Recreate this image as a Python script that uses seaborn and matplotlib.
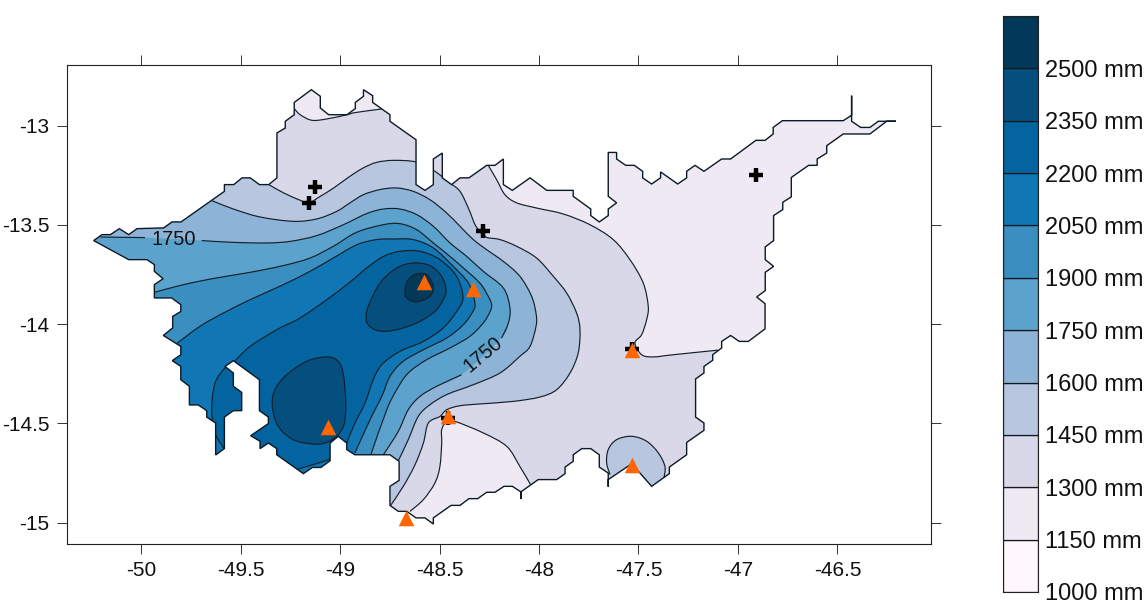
import matplotlib
matplotlib.use("Agg")
import matplotlib.pyplot as plt
import seaborn as sns
import numpy as np
import pandas as pd
from matplotlib.patches import Polygon, PathPatch
from matplotlib.path import Path

# rainfall bands
levels = [1000, 1150, 1300, 1450, 1600, 1750, 1900, 2050, 2200, 2350, 2500]
band_colors = ["#FFF7FB", "#EEE9F3", "#D9D8E8", "#B8C7DF", "#8DB4D6", "#5BA3CC",
               "#3A8FC0", "#1076B4", "#04649F", "#044F7E", "#023858"]
lon_ticks = [-50, -49.5, -49, -48.5, -48, -47.5, -47, -46.5]
lat_ticks = [-13, -13.5, -14, -14.5, -15]

# stations
tri_lon = [-48.578, -48.330, -47.534, -48.459, -47.534, -48.668, -49.059]
tri_lat = [-13.790, -13.821, -14.129, -14.461, -14.708, -14.976, -14.518]
plus_lon = [-49.127, -49.156, -48.280, -46.910, -47.534, -48.459]
plus_lat = [-13.309, -13.389, -13.529, -13.250, -14.124, -14.471]

# outline of the basin
outline = [(-50.238,-13.579),(-50.196,-13.549),(-50.154,-13.549),(-50.109,-13.519),(-50.062,-13.549),
    (-50.020,-13.519),(-49.886,-13.515),(-49.844,-13.485),(-49.799,-13.485),(-49.581,-13.331),
    (-49.581,-13.297),(-49.534,-13.297),(-49.492,-13.263),(-49.451,-13.263),(-49.405,-13.297),
    (-49.358,-13.297),(-49.317,-13.263),(-49.317,-13.037),(-49.275,-13.012),(-49.275,-12.978),
    (-49.230,-12.945),(-49.230,-12.883),(-49.144,-12.819),(-49.099,-12.852),(-49.099,-12.911),
    (-49.057,-12.945),(-48.965,-12.945),(-48.923,-12.914),(-48.923,-12.883),(-48.882,-12.852),
    (-48.882,-12.819),(-48.836,-12.849),(-48.836,-12.883),(-48.749,-12.945),(-48.749,-12.978),
    (-48.618,-13.071),(-48.618,-13.297),(-48.573,-13.326),(-48.531,-13.297),(-48.531,-13.168),
    (-48.486,-13.138),(-48.486,-13.263),(-48.439,-13.297),(-48.397,-13.263),(-48.352,-13.263),
    (-48.263,-13.200),(-48.221,-13.200),(-48.179,-13.168),(-48.179,-13.297),(-48.134,-13.326),
    (-48.045,-13.263),(-47.961,-13.326),(-47.828,-13.326),(-47.828,-13.356),(-47.740,-13.420),
    (-47.740,-13.453),(-47.697,-13.485),(-47.652,-13.453),(-47.652,-13.420),(-47.610,-13.389),
    (-47.652,-13.356),(-47.652,-13.135),(-47.610,-13.135),(-47.610,-13.168),(-47.564,-13.200),
    (-47.521,-13.200),(-47.479,-13.230),(-47.479,-13.263),(-47.434,-13.294),(-47.389,-13.263),
    (-47.389,-13.233),(-47.303,-13.294),(-47.258,-13.263),(-47.258,-13.230),(-47.216,-13.200),
    (-47.171,-13.230),(-47.082,-13.168),(-47.037,-13.168),(-46.910,-13.074),(-46.864,-13.074),
    (-46.823,-13.042),(-46.823,-13.009),(-46.777,-12.975),(-46.471,-12.975),(-46.429,-12.948),
    (-46.429,-12.849),(-46.429,-12.978),(-46.383,-13.009),(-46.337,-13.009),(-46.295,-12.978),
    (-46.206,-12.978),(-46.253,-12.978),(-46.337,-13.042),(-46.471,-13.042),(-46.554,-13.101),
    (-46.554,-13.138),(-46.602,-13.168),(-46.602,-13.200),(-46.645,-13.200),(-46.732,-13.261),
    (-46.732,-13.359),(-46.775,-13.386),(-46.775,-13.423),(-46.821,-13.453),(-46.821,-13.579),
    (-46.863,-13.611),(-46.863,-13.675),(-46.821,-13.709),(-46.863,-13.739),(-46.863,-13.831),
    (-46.906,-13.863),(-46.864,-13.897),(-46.864,-14.024),(-46.948,-14.087),(-46.994,-14.087),
    (-47.037,-14.057),(-47.082,-14.087),(-47.082,-14.120),(-47.127,-14.154),(-47.127,-14.182),
    (-47.171,-14.213),(-47.171,-14.246),(-47.213,-14.276),(-47.213,-14.468),(-47.171,-14.498),
    (-47.171,-14.535),(-47.258,-14.596),(-47.258,-14.658),(-47.345,-14.720),(-47.345,-14.753),
    (-47.434,-14.817),(-47.534,-14.703),(-47.652,-14.783),(-47.652,-14.819),(-47.652,-14.750),
    (-47.697,-14.720),(-47.697,-14.658),(-47.740,-14.627),(-47.785,-14.627),(-47.828,-14.658),
    (-47.828,-14.691),(-47.869,-14.720),(-47.869,-14.753),(-47.911,-14.783),(-48.004,-14.783),
    (-48.091,-14.845),(-48.091,-14.881),(-48.091,-14.845),(-48.134,-14.817),(-48.176,-14.817),
    (-48.221,-14.847),(-48.263,-14.847),(-48.308,-14.879),(-48.352,-14.879),(-48.397,-14.913),
    (-48.442,-14.913),(-48.531,-14.976),(-48.531,-15.007),(-48.573,-14.976),(-48.618,-14.976),
    (-48.665,-14.943),(-48.707,-14.943),(-48.749,-14.913),(-48.749,-14.817),(-48.703,-14.787),
    (-48.703,-14.691),(-48.749,-14.658),(-48.925,-14.658),(-48.966,-14.632),(-48.966,-14.599),
    (-49.009,-14.565),(-49.050,-14.599),(-49.050,-14.688),(-49.096,-14.722),(-49.139,-14.722),
    (-49.184,-14.753),(-49.318,-14.658),(-49.318,-14.627),(-49.360,-14.599),(-49.402,-14.627),
    (-49.402,-14.590),(-49.449,-14.562),(-49.360,-14.501),(-49.360,-14.468),(-49.405,-14.436),
    (-49.405,-14.280),(-49.536,-14.184),(-49.578,-14.213),(-49.536,-14.246),(-49.536,-14.313),
    (-49.494,-14.344),(-49.494,-14.436),(-49.536,-14.436),(-49.581,-14.468),(-49.581,-14.627),
    (-49.625,-14.659),(-49.625,-14.498),(-49.670,-14.468),(-49.670,-14.436),(-49.712,-14.407),
    (-49.757,-14.407),(-49.757,-14.313),(-49.800,-14.280),(-49.800,-14.213),(-49.843,-14.184),
    (-49.800,-14.154),(-49.800,-14.112),(-49.888,-14.057),(-49.841,-14.019),(-49.841,-13.961),
    (-49.800,-13.936),(-49.800,-13.902),(-49.846,-13.868),(-49.933,-13.868),(-49.933,-13.801),
    (-49.889,-13.771),(-49.933,-13.734),(-49.933,-13.700),(-49.970,-13.675),(-50.062,-13.675)]

# isohyets
iso1300_north = [(-49.230,-12.914),(-49.200,-12.945),(-49.141,-12.973),(-49.065,-12.966),
    (-48.965,-12.945),(-48.923,-12.934),(-48.790,-12.916)]
iso1300_east = [(-48.255,-13.200),(-48.213,-13.272),(-48.171,-13.348),(-48.112,-13.389),
    (-48.012,-13.415),(-47.878,-13.445),(-47.744,-13.499),(-47.627,-13.574),(-47.543,-13.675),
    (-47.476,-13.793),(-47.451,-13.910),(-47.459,-13.977),(-47.484,-14.053),(-47.518,-14.095),
    (-47.484,-14.154),(-47.426,-14.165),(-47.325,-14.154),(-47.101,-14.131)]
iso1300_south = [(-48.648,-14.943),(-48.581,-14.884),(-48.523,-14.800),(-48.498,-14.717),
    (-48.489,-14.599),(-48.489,-14.532),(-48.464,-14.490),(-48.422,-14.490),(-48.280,-14.548),
    (-48.162,-14.616),(-48.096,-14.717),(-48.042,-14.809)]
iso1450 = [(-49.358,-13.297),(-49.283,-13.339),(-49.200,-13.376),(-49.157,-13.389),(-49.099,-13.356),
    (-49.032,-13.314),(-48.950,-13.255),(-48.883,-13.213),(-48.816,-13.185),(-48.732,-13.175),
    (-48.618,-13.183),(-48.531,-13.225),(-48.447,-13.289),(-48.397,-13.331),(-48.355,-13.415),
    (-48.317,-13.507),(-48.281,-13.539),(-48.263,-13.563),(-48.196,-13.574),(-48.112,-13.608),
    (-48.012,-13.667),(-47.928,-13.759),(-47.861,-13.843),(-47.811,-13.944),(-47.794,-14.028),
    (-47.803,-14.145),(-47.844,-14.246),(-47.911,-14.330),(-47.995,-14.367),(-48.129,-14.389),
    (-48.297,-14.402),(-48.397,-14.411),(-48.464,-14.431),(-48.498,-14.465),(-48.556,-14.498),
    (-48.581,-14.599),(-48.623,-14.708),(-48.682,-14.817),(-48.749,-14.918)]
iso1450_bump = [(-47.643,-14.758),(-47.660,-14.699),(-47.652,-14.632),(-47.610,-14.582),(-47.534,-14.565),
    (-47.459,-14.590),(-47.400,-14.649),(-47.367,-14.717),(-47.372,-14.775)]
iso1600 = [(-49.648,-13.376),(-49.536,-13.420),(-49.402,-13.460),(-49.235,-13.482),(-49.117,-13.470),
    (-49.017,-13.432),(-48.950,-13.389),(-48.883,-13.348),(-48.799,-13.322),(-48.715,-13.314),
    (-48.632,-13.331),(-48.548,-13.373),(-48.464,-13.440),(-48.397,-13.507),(-48.330,-13.574),
    (-48.263,-13.625),(-48.179,-13.684),(-48.096,-13.759),(-48.037,-13.860),(-48.014,-13.952),
    (-48.015,-14.011),(-48.045,-14.112),(-48.096,-14.162),(-48.196,-14.246),(-48.330,-14.305),
    (-48.464,-14.355),(-48.548,-14.406),(-48.607,-14.465),(-48.657,-14.582),(-48.707,-14.688)]
iso1750_a = [(-50.204,-13.561),(-49.980,-13.564)]
iso1750_b = [(-49.695,-13.579),(-49.536,-13.588),(-49.368,-13.591),(-49.251,-13.583),(-49.117,-13.554),
    (-48.983,-13.499),(-48.866,-13.443),(-48.782,-13.420),(-48.699,-13.420),(-48.615,-13.448),
    (-48.531,-13.507),(-48.447,-13.591),(-48.363,-13.659),(-48.280,-13.734),(-48.179,-13.818),
    (-48.146,-13.918),(-48.154,-13.994),(-48.188,-14.070)]
iso1750_c = [(-48.389,-14.255),(-48.514,-14.313),(-48.598,-14.364),(-48.657,-14.431),(-48.707,-14.540),
    (-48.782,-14.658)]
iso1900 = [(-49.933,-13.840),(-49.787,-13.801),(-49.620,-13.767),(-49.452,-13.739),(-49.285,-13.705),
    (-49.151,-13.667),(-49.034,-13.608),(-48.916,-13.537),(-48.782,-13.499),(-48.699,-13.494),
    (-48.615,-13.524),(-48.531,-13.591),(-48.447,-13.659),(-48.380,-13.717),(-48.297,-13.793),
    (-48.255,-13.860),(-48.238,-13.902),(-48.246,-13.937),(-48.280,-13.994),(-48.347,-14.061),
    (-48.447,-14.120),(-48.564,-14.179),(-48.657,-14.246),(-48.715,-14.330),(-48.765,-14.431),
    (-48.844,-14.655)]
iso2050 = [(-49.821,-14.098),(-49.704,-14.011),(-49.586,-13.944),(-49.452,-13.877),(-49.285,-13.801),
    (-49.151,-13.734),(-49.034,-13.667),(-48.916,-13.600),(-48.816,-13.574),(-48.732,-13.571),
    (-48.632,-13.574),(-48.531,-13.616),(-48.431,-13.709),(-48.355,-13.793),(-48.322,-13.893),
    (-48.333,-13.937),(-48.380,-14.003),(-48.464,-14.070),(-48.581,-14.129),(-48.682,-14.187),
    (-48.749,-14.263),(-48.790,-14.364),(-48.849,-14.481),(-48.925,-14.649)]
iso2200 = [(-49.583,-14.627),(-49.628,-14.548),(-49.645,-14.431),(-49.628,-14.296),(-49.578,-14.221),
    (-49.531,-14.187),(-49.452,-14.112),(-49.318,-14.028),(-49.201,-13.969),(-49.067,-13.877),
    (-48.950,-13.788),(-48.866,-13.717),(-48.782,-13.659),(-48.699,-13.633),(-48.598,-13.633),
    (-48.498,-13.675),(-48.414,-13.759),(-48.382,-13.867),(-48.414,-13.936),(-48.481,-14.019),
    (-48.581,-14.087),(-48.699,-14.137),(-48.790,-14.204),(-48.833,-14.280),(-48.874,-14.397),
    (-48.925,-14.498),(-48.966,-14.599)]
iso2200_foot = [(-49.050,-14.679),(-49.096,-14.696),(-49.210,-14.730)]
iso2350_north = [(-48.869,-13.969),(-48.858,-13.910),(-48.799,-13.793),(-48.715,-13.717),(-48.632,-13.692),
    (-48.548,-13.705),(-48.489,-13.759),(-48.467,-13.826),(-48.481,-13.877),(-48.523,-13.936),
    (-48.598,-13.986),(-48.682,-14.019),(-48.765,-14.036),(-48.824,-14.028),(-48.858,-14.003)]
iso2350_south = [(-49.340,-14.414),(-49.327,-14.330),(-49.268,-14.255),(-49.167,-14.187),(-49.067,-14.165),
    (-49.009,-14.187),(-48.983,-14.255),(-48.971,-14.397),(-48.978,-14.498),(-49.009,-14.557),
    (-49.067,-14.596),(-49.134,-14.604),(-49.235,-14.582),(-49.310,-14.515)]
iso2500 = [(-48.673,-13.826),(-48.657,-13.776),(-48.615,-13.747),(-48.564,-13.751),(-48.531,-13.810),
    (-48.548,-13.860),(-48.615,-13.888),(-48.665,-13.868)]

# points beyond the basin edge that close each band (clipped away later)
west = [(-50.206,-14.884), (-50.407,-13.574)]

sns.set_theme(style="ticks")
plt.rcParams["font.family"] = ["Liberation Sans", "DejaVu Sans"]
plt.rcParams["axes.unicode_minus"] = False

W, H = 1148, 601
fig = plt.figure(figsize=(W / 100, H / 100), dpi=100)
ax = fig.add_axes([67 / W, (H - 543.7) / H, 864 / W, 479 / H])
ax.set_xlim(-50.372, -46.030)
ax.set_ylim(-15.106, -12.693)

basin = Polygon(outline, closed=True, facecolor=band_colors[1], edgecolor="none", zorder=1)
ax.add_patch(basin)


# bezier pieces through the read points, so isohyets come out round like in the map
def curve(points, closed=False):
    p = np.array(points + points[:1]) if closed else np.array(points)
    n = len(p)
    verts = [p[0]]
    codes = [Path.LINETO]
    for i in range(n - 1):
        if closed:
            before = p[i - 1] if i > 0 else p[n - 2]
            after = p[i + 2] if i + 2 < n else p[1]
        else:
            before = p[max(i - 1, 0)]
            after = p[min(i + 2, n - 1)]
        verts += [p[i] + (p[i + 1] - before) / 6, p[i + 1] - (after - p[i]) / 6, p[i + 1]]
        codes += [Path.CURVE4] * 3
    return verts, codes


def straight(points):
    return [np.array(q) for q in points], [Path.LINETO] * len(points)


def band(color, z, *parts):
    verts, codes = [], []
    for v, c in parts:
        verts += v
        codes += c
    codes[0] = Path.MOVETO
    verts.append(verts[0])
    codes.append(Path.CLOSEPOLY)
    patch = PathPatch(Path(np.array(verts), codes), facecolor=color, edgecolor="none", zorder=z)
    ax.add_patch(patch)
    patch.set_clip_path(basin)


def iso(points, closed=False):
    v, c = curve(points, closed)
    c[0] = Path.MOVETO
    patch = PathPatch(Path(np.array(v), c), fill=False, edgecolor="#15202b", lw=0.85, zorder=12)
    ax.add_patch(patch)
    patch.set_clip_path(basin)


band(band_colors[2], 2, curve(iso1300_north), straight([(-48.699,-12.869), (-48.297,-13.071)]),
     curve(iso1300_east), straight([(-46.889,-14.632), (-47.442,-14.985)]), curve(iso1300_south[::-1]),
     straight([(-48.724,-15.035), (-48.799,-15.086)] + west + [(-49.302,-12.819)]))
band(band_colors[3], 3, curve(iso1450), straight([(-48.849,-15.086)] + west + [(-49.553,-13.222)]))
band(band_colors[3], 3, curve(iso1450_bump), straight([(-47.392,-14.884), (-47.618,-14.884)]))
band(band_colors[4], 4, curve(iso1600),
     straight([(-48.724,-14.673), (-48.849,-14.733)] + west + [(-49.854,-13.297)]))
band(band_colors[5], 5, curve(iso1750_a + iso1750_b + iso1750_c),
     straight([(-48.849,-14.783), (-50.206,-14.884), (-50.407,-13.675), (-50.241,-13.574)]))
band(band_colors[6], 6, curve(iso1900),
     straight([(-48.874,-14.733), (-49.704,-14.783), (-50.106,-14.380), (-50.005,-13.851)]))
band(band_colors[7], 7, curve(iso2050),
     straight([(-48.950,-14.733), (-49.704,-14.783), (-50.005,-14.380), (-49.879,-14.103)]))
band(band_colors[8], 8, curve(iso2200), straight([(-49.009,-14.607)]), curve(iso2200_foot),
     straight([(-49.302,-14.783), (-49.452,-14.783), (-49.583,-14.658)]))
band(band_colors[9], 9, curve(iso2350_north, closed=True))
band(band_colors[9], 9, curve(iso2350_south, closed=True))
band(band_colors[10], 10, curve(iso2500, closed=True))

for line_pts in [iso1300_north, iso1300_east, iso1300_south, iso1450, iso1450_bump, iso1600,
                 iso1750_a, iso1750_b, iso1750_c, iso1900, iso2050, iso2200, iso2200_foot]:
    iso(line_pts)
for line_pts in [iso2350_north, iso2350_south, iso2500]:
    iso(line_pts, closed=True)

ax.add_patch(Polygon(outline, closed=True, fill=False, edgecolor="#0b1a26", lw=1.0, zorder=13))

ax.text(-49.834, -13.574, "1750", fontsize=14.5, ha="center", va="center", zorder=14, color="#111111")
ax.text(-48.280, -14.154, "1750", fontsize=14.5, ha="center", va="center", rotation=40,
        rotation_mode="anchor", zorder=14, color="#111111")

plus_df = pd.DataFrame({"lon": plus_lon, "lat": plus_lat})
tri_df = pd.DataFrame({"lon": tri_lon, "lat": tri_lat})
sns.scatterplot(data=plus_df, x="lon", y="lat", marker="+", s=110, color="black", linewidth=3.2, ax=ax, zorder=15)
sns.scatterplot(data=tri_df, x="lon", y="lat", marker="^", s=125, color="#FF6600", linewidth=0, ax=ax, zorder=16)

ax.set_xlabel("")
ax.set_ylabel("")
ax.set_xticks(lon_ticks)
ax.set_xticklabels([f"{v:g}" for v in lon_ticks])
ax.set_yticks(lat_ticks)
ax.set_yticklabels([f"{v:g}" for v in lat_ticks])
ax.tick_params(axis="both", which="major", direction="out", length=7.2, width=0.7, color="#333333",
               top=True, right=True, labelsize=15, labelcolor="#111111", pad=5.5)
for sp in ax.spines.values():
    sp.set_linewidth(0.8)
    sp.set_color("#222222")

# colour key
cax = fig.add_axes([1003 / W, (H - 592) / H, 35 / W, 576 / H])
for lev, col in zip(levels, band_colors):
    cax.bar(0, 150, bottom=lev, width=1, color=col, edgecolor="#101820", linewidth=0.9)
cax.set_xlim(-0.5, 0.5)
cax.set_ylim(1000, 2650)
cax.set_xticks([])
cax.set_yticks(levels)
cax.set_yticklabels([f"{v} mm" for v in levels])
cax.yaxis.tick_right()
cax.tick_params(axis="y", length=0, labelsize=17, pad=5, labelcolor="#111111")
for sp in cax.spines.values():
    sp.set_linewidth(0.8)
    sp.set_color("#222222")

fig.savefig("out.png", dpi=100)
